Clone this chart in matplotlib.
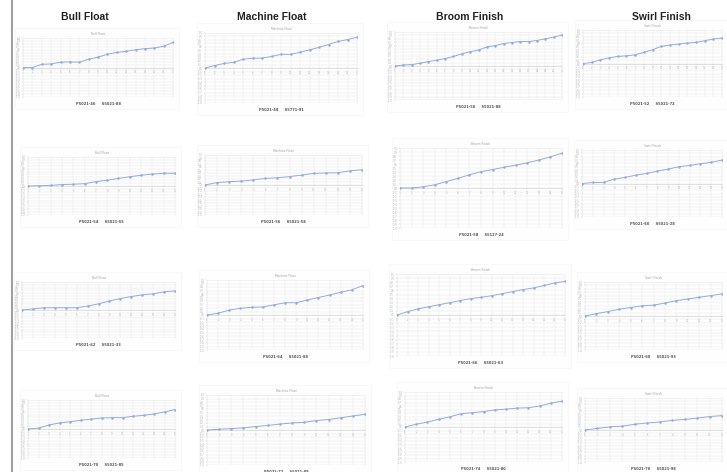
import matplotlib.pyplot as plt
from matplotlib.lines import Line2D
from matplotlib.patches import Rectangle
import numpy as np

W, H = 727, 472

finishes = ["Bull Float", "Machine Float", "Broom Finish", "Swirl Finish"]
header_x = [85, 272, 470, 661]

# each series starts at zero and rises (fraction of the axis half-range)
bull_1 = [0, 0, .11, .12, .18, .19, .18, .28, .35, .45, .51, .55, .60, .64, .66, .72, .85]
machine_1 = [0, .07, .13, .16, .25, .28, .28, .33, .39, .39, .45, .52, .59, .67, .76, .81, .88]
broom_1 = [0, .03, .04, .08, .13, .17, .22, .28, .36, .42, .47, .56, .60, .66, .69, .72, .72, .75, .80, .85, .91]
swirl_1 = [0, .03, .11, .17, .21, .23, .26, .33, .41, .51, .55, .58, .61, .63, .68, .73, .76]

bull_2 = [0, .01, .02, .05, .06, .08, .15, .20, .26, .32, .37, .41, .44, .44]
machine_2 = [0, .08, .11, .13, .17, .22, .24, .28, .33, .39, .40, .41, .47, .51]
broom_2 = [0, 0, .03, .08, .16, .24, .33, .41, .46, .52, .57, .63, .70, .78, .87]
swirl_2 = [0, .03, .03, .13, .18, .25, .30, .37, .43, .50, .54, .59, .63, .70]

bull_3 = [0, .04, .08, .08, .08, .08, .14, .22, .32, .41, .48, .54, .58, .65, .68]
machine_3 = [0, .05, .14, .19, .22, .23, .29, .35, .35, .43, .50, .57, .65, .72, .84]
broom_3 = [0, .08, .15, .20, .25, .30, .35, .40, .43, .47, .52, .57, .62, .66, .72, .78, .82]
swirl_3 = [0, .07, .13, .20, .25, .30, .32, .38, .45, .50, .55, .60, .65]

bull_4 = [0, .03, .14, .21, .25, .30, .34, .38, .39, .39, .44, .47, .52, .59, .67]
machine_4 = [0, .02, .04, .06, .10, .13, .17, .20, .22, .27, .30, .35, .40, .45]
broom_4 = [0, .08, .14, .22, .29, .38, .41, .44, .49, .51, .54, .55, .60, .68, .74]
swirl_4 = [0, .05, .10, .12, .18, .22, .25, .30, .33, .37, .42, .45]

series = [bull_1, machine_1, broom_1, swirl_1,
          bull_2, machine_2, broom_2, swirl_2,
          bull_3, machine_3, broom_3, swirl_3,
          bull_4, machine_4, broom_4, swirl_4]

legend_a = ["P5021-46", "P5021-48", "P5021-50", "P5021-52",
            "P5021-54", "P5021-56", "P5021-58", "P5021-60",
            "P5021-62", "P5021-64", "P5021-66", "P5021-68",
            "P5021-70", "P5021-72", "P5021-74", "P5021-76"]
legend_b = ["S5021-88", "S5771-91", "S5021-88", "S5021-72",
            "S5021-55", "S5021-58", "S5127-24", "S5021-28",
            "S5021-33", "S5021-88", "S5021-63", "S5021-93",
            "S5021-85", "S5021-89", "S5021-80", "S5021-98"]

# grid-area boxes in pixels: (left, top, right, bottom)
boxes = [
    (23, 38, 173, 97), (205, 33, 357, 103), (395, 32, 562, 100), (583, 30, 722, 97),
    (28, 157, 175, 215), (205, 155, 362, 215), (400, 148, 562, 228), (582, 150, 722, 217),
    (22, 282, 175, 338), (207, 280, 363, 350), (397, 274, 565, 356), (585, 282, 722, 350),
    (28, 400, 175, 458), (207, 395, 365, 465), (405, 392, 562, 462), (585, 398, 722, 462),
]


def px_box(x0, y0, x1, y1):
    return [x0 / W, 1 - y1 / H, (x1 - x0) / W, (y1 - y0) / H]


def draw_panel(fig, box, values, title, lab_a, lab_b):
    x0, y0, x1, y1 = box
    # faint chart frame
    fig.add_artist(Rectangle(((x0 - 8) / W, 1 - (y1 + 12) / H), (x1 - x0 + 14) / W,
                             (y1 - y0 + 22) / H, transform=fig.transFigure,
                             facecolor="#fefefe", edgecolor="#f4f4f4", lw=0.5, zorder=0))
    ax = fig.add_axes(px_box(*box))
    x = np.arange(len(values))
    ax.plot(x, values, color="#93acd9", lw=0.7, marker="o", ms=0.8, zorder=3)
    ax.set_xlim(0, len(values) - 1)
    ax.set_ylim(-1, 1)
    ax.set_yticks(np.linspace(-1, 1, 21))
    ax.set_xticks(x)
    ax.set_xticklabels([str(i + 1) for i in x])
    ax.set_yticklabels([f"{v:.1f}" for v in np.linspace(-1, 1, 21)])
    ax.grid(color="#e9e9e9", lw=0.35)
    for s in ax.spines.values():
        s.set_color("#ececec")
        s.set_linewidth(0.4)
    ax.spines["bottom"].set_position(("data", 0))
    ax.spines["bottom"].set_color("#d0d0d0")
    ax.tick_params(labelsize=1.8, colors="#b0b0b0", length=1, width=0.3, pad=1)
    ax.set_facecolor("none")
    ax.set_title(title, fontsize=2.2, color="#a0a0a0", pad=2)
    cx = (x0 + x1) / 2 / W
    fig.text(cx, 1 - (y1 + 7) / H, lab_a + "     " + lab_b, ha="center", va="center",
             fontsize=2.6, color="#555555", fontweight="bold")


fig = plt.figure(figsize=(W / 100, H / 100), dpi=100)
fig.patch.set_facecolor("white")

for i, (box, vals) in enumerate(zip(boxes, series)):
    draw_panel(fig, box, vals, finishes[i % 4], legend_a[i], legend_b[i])

for name, hx in zip(finishes, header_x):
    fig.text(hx / W, 1 - 17 / H, name, ha="center", va="center", fontsize=7.5,
             fontweight="bold", color="#222222", family="Liberation Sans")

fig.add_artist(Line2D([12 / W, 12 / W], [0, 1], transform=fig.transFigure,
                      color="#a0a0a0", lw=1.5))

fig.savefig("out.png", dpi=100)
